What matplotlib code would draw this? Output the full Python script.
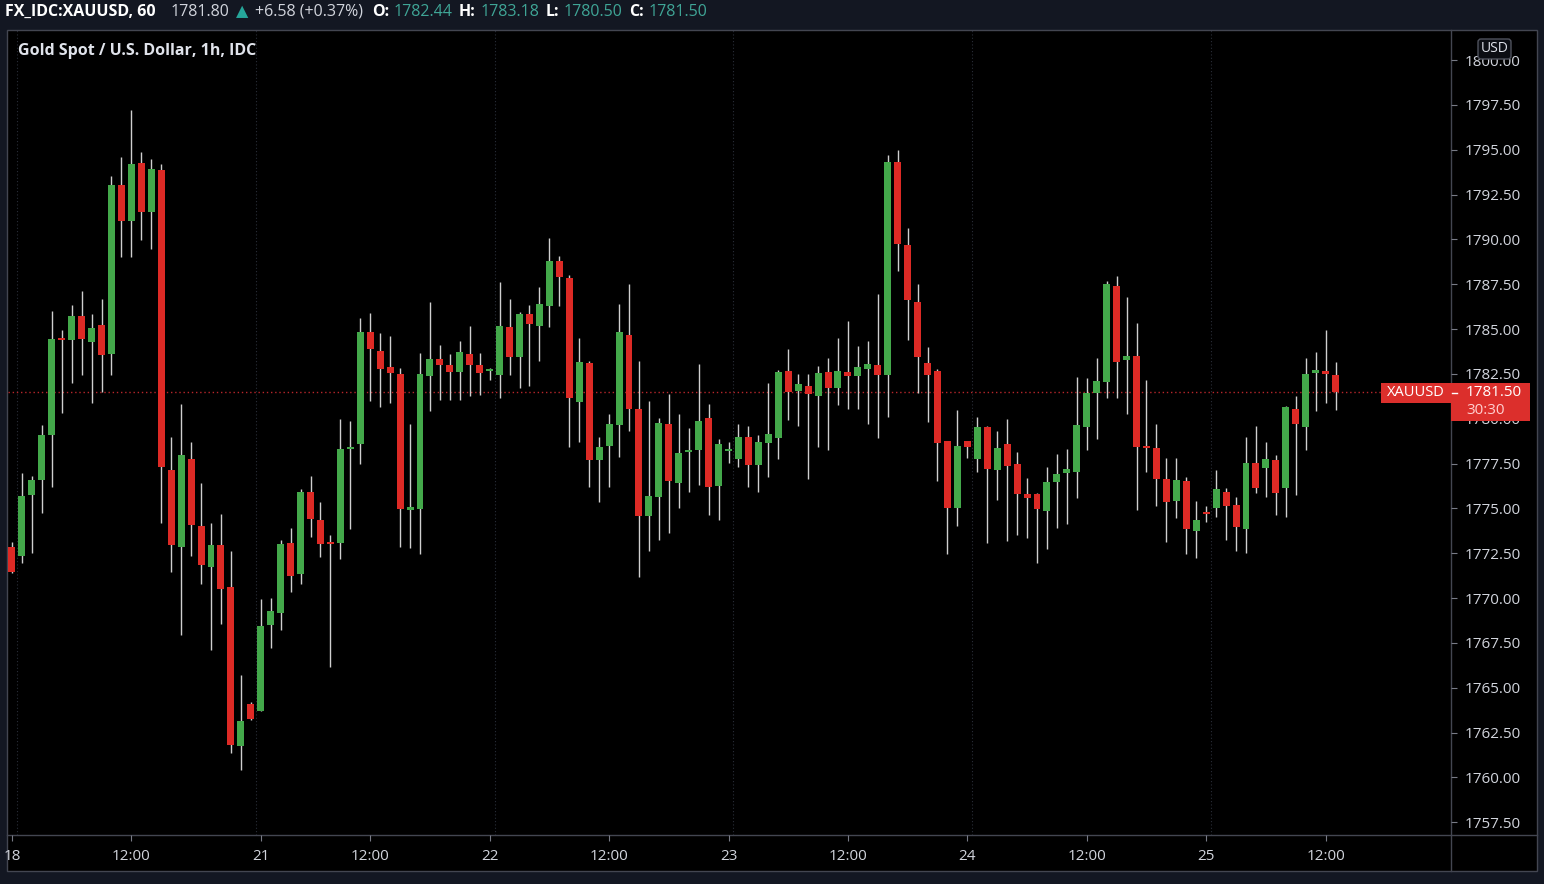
import matplotlib
matplotlib.use("Agg")
import matplotlib.pyplot as plt
from matplotlib.patches import Rectangle, FancyBboxPatch
import numpy as np

plt.rcParams['font.family'] = ['Open Sans', 'DejaVu Sans']

# Data: hourly XAUUSD candles
opens = [1772.85, 1772.35, 1775.75, 1776.59, 1779.10, 1784.45, 1784.39, 1785.73, 1784.28, 1785.23,
         1783.61, 1793.04, 1791.03, 1794.27, 1791.53, 1793.87, 1777.14, 1772.85, 1777.76, 1774.02,
         1771.73, 1772.96, 1770.62, 1761.75, 1764.09, 1763.70, 1768.50, 1769.17, 1773.07, 1771.34,
         1775.92, 1774.36, 1773.10, 1773.07, 1778.31, 1778.59, 1784.84, 1783.78, 1782.89, 1782.50,
         1774.91, 1774.97, 1782.39, 1783.33, 1783.00, 1782.61, 1783.61, 1783.00, 1782.67, 1782.44,
         1785.12, 1783.45, 1785.84, 1785.17, 1786.29, 1788.80, 1787.85, 1780.94, 1783.11, 1777.70,
         1778.48, 1779.65, 1784.67, 1780.55, 1774.58, 1775.64, 1779.71, 1776.42, 1778.12, 1778.26,
         1780.04, 1776.25, 1778.20, 1777.76, 1778.98, 1777.42, 1778.65, 1778.93, 1782.67, 1781.55,
         1781.83, 1781.27, 1782.61, 1781.72, 1782.61, 1782.39, 1782.78, 1783.00, 1782.44, 1794.32,
         1789.69, 1786.51, 1783.11, 1782.67, 1778.76, 1775.02, 1778.76, 1777.76, 1779.54, 1777.14,
         1778.59, 1777.48, 1775.81, 1775.81, 1774.86, 1776.47, 1776.98, 1777.03, 1779.54, 1781.44,
         1782.05, 1787.41, 1783.28, 1783.50, 1778.43, 1778.37, 1776.64, 1775.42, 1776.53, 1773.74,
         1774.74, 1775.02, 1775.92, 1775.19, 1773.85, 1777.53, 1777.26, 1777.70, 1776.14, 1780.55,
         1779.54, 1782.58, 1782.58, 1782.44]
highs = [1773.13, 1776.98, 1776.81, 1779.65, 1786.01, 1784.95, 1786.35, 1787.13, 1785.84, 1786.68,
         1793.54, 1794.60, 1797.22, 1794.88, 1794.49, 1794.21, 1778.98, 1780.82, 1778.71, 1776.42,
         1774.19, 1774.69, 1772.63, 1765.71, 1764.20, 1769.95, 1770.01, 1773.24, 1773.91, 1776.08,
         1776.81, 1775.36, 1773.52, 1779.99, 1779.88, 1785.62, 1785.90, 1784.78, 1784.62, 1782.83,
         1779.71, 1783.67, 1786.51, 1784.12, 1783.61, 1784.34, 1785.17, 1783.67, 1782.83, 1787.63,
         1786.68, 1785.96, 1786.35, 1787.35, 1790.08, 1789.08, 1788.02, 1784.51, 1783.22, 1778.98,
         1780.27, 1786.40, 1787.52, 1783.22, 1780.99, 1780.04, 1781.38, 1780.27, 1779.49, 1783.06,
         1780.82, 1778.87, 1778.71, 1779.71, 1779.60, 1779.10, 1782.00, 1782.72, 1783.89, 1782.50,
         1782.50, 1782.94, 1783.39, 1784.51, 1785.45, 1784.06, 1784.34, 1786.96, 1794.71, 1794.99,
         1790.64, 1787.52, 1784.00, 1782.78, 1778.76, 1780.49, 1778.76, 1780.10, 1779.60, 1779.32,
         1779.99, 1778.15, 1776.70, 1775.86, 1777.31, 1778.04, 1778.31, 1782.33, 1782.27, 1783.39,
         1787.68, 1787.96, 1786.79, 1785.34, 1782.16, 1779.71, 1777.81, 1777.81, 1776.75, 1775.42,
         1775.14, 1777.14, 1776.14, 1775.64, 1778.98, 1779.60, 1778.71, 1777.98, 1780.71, 1781.27,
         1783.39, 1783.72, 1784.95, 1783.18]
lows = [1771.40, 1771.96, 1772.52, 1774.75, 1776.20, 1780.32, 1782.00, 1782.44, 1780.88, 1781.49,
        1782.44, 1789.02, 1789.02, 1789.97, 1789.47, 1774.19, 1771.45, 1767.94, 1772.35, 1770.79,
        1767.11, 1768.56, 1761.36, 1760.41, 1763.20, 1763.70, 1767.22, 1768.22, 1770.34, 1770.79,
        1773.41, 1772.29, 1766.16, 1772.18, 1773.85, 1777.48, 1780.99, 1780.66, 1780.88, 1772.85,
        1772.79, 1772.46, 1780.43, 1781.05, 1781.05, 1781.05, 1781.27, 1781.33, 1782.16, 1781.16,
        1782.44, 1781.72, 1781.83, 1783.22, 1785.12, 1786.29, 1778.43, 1778.71, 1776.20, 1775.36,
        1776.20, 1777.87, 1779.32, 1771.18, 1772.63, 1773.24, 1773.63, 1775.02, 1775.92, 1776.31,
        1774.63, 1774.36, 1777.53, 1777.31, 1776.20, 1775.92, 1776.75, 1777.76, 1779.93, 1779.60,
        1776.64, 1778.43, 1778.26, 1780.77, 1780.55, 1780.55, 1779.71, 1778.93, 1780.10, 1788.24,
        1784.39, 1781.44, 1779.82, 1776.53, 1772.46, 1774.02, 1777.81, 1777.03, 1773.07, 1775.47,
        1773.18, 1773.52, 1773.35, 1771.96, 1772.74, 1773.91, 1774.13, 1775.58, 1778.26, 1778.87,
        1781.16, 1781.16, 1780.27, 1774.91, 1777.03, 1775.14, 1773.13, 1774.47, 1772.46, 1772.24,
        1774.24, 1774.52, 1773.24, 1772.63, 1772.52, 1775.86, 1775.64, 1774.63, 1774.52, 1775.75,
        1778.26, 1780.43, 1780.88, 1780.50]
closes = [1771.45, 1775.69, 1776.59, 1779.10, 1784.45, 1784.38, 1785.73, 1784.45, 1785.06, 1783.56,
          1793.04, 1791.03, 1794.21, 1791.53, 1793.93, 1777.31, 1772.96, 1777.98, 1774.08, 1771.85,
          1772.96, 1770.51, 1761.81, 1763.15, 1763.26, 1768.44, 1769.28, 1773.02, 1771.23, 1775.92,
          1774.41, 1773.02, 1773.02, 1778.31, 1778.43, 1784.84, 1783.89, 1782.78, 1782.55, 1774.97,
          1775.08, 1782.50, 1783.33, 1783.00, 1782.61, 1783.72, 1783.00, 1782.55, 1782.78, 1785.17,
          1783.45, 1785.84, 1785.29, 1786.40, 1788.80, 1787.91, 1781.16, 1783.17, 1777.70, 1778.43,
          1779.71, 1784.84, 1780.55, 1774.58, 1775.69, 1779.77, 1776.53, 1778.09, 1778.20, 1779.88,
          1776.20, 1778.59, 1778.28, 1778.98, 1777.42, 1778.71, 1779.15, 1782.61, 1781.49, 1781.94,
          1781.38, 1782.55, 1781.72, 1782.67, 1782.39, 1782.89, 1783.06, 1782.44, 1794.32, 1789.75,
          1786.62, 1783.45, 1782.44, 1778.65, 1775.02, 1778.48, 1778.43, 1779.54, 1777.20, 1778.37,
          1777.37, 1775.81, 1775.58, 1774.97, 1776.47, 1776.92, 1777.20, 1779.65, 1781.44, 1782.11,
          1787.52, 1783.17, 1783.50, 1778.43, 1778.37, 1776.64, 1775.36, 1776.59, 1773.85, 1774.36,
          1774.69, 1776.08, 1775.14, 1773.97, 1777.53, 1776.14, 1777.76, 1775.86, 1780.66, 1779.71,
          1782.50, 1782.63, 1782.52, 1781.50]

tick_pos = [0, 12, 25, 36, 48, 60, 72, 84, 96, 108, 120, 132]
tick_labels = ["18", "12:00", "21", "12:00", "22", "12:00", "23", "12:00", "24", "12:00", "25", "12:00"]
day_breaks = [0.5, 24.5, 48.5, 72.5, 96.5, 120.5]
price_ticks = np.arange(1757.5, 1800.01, 2.5)
last_price = 1781.50

W, H = 1544, 884
fig = plt.figure(figsize=(W / 100, H / 100), dpi=100, facecolor='#131722')

# frame behind everything
bg = fig.add_axes([0, 0, 1, 1], zorder=-1)
bg.set_xlim(0, W)
bg.set_ylim(H, 0)
bg.axis('off')
bg.add_patch(Rectangle((7, 30), 1530, 841, facecolor='black', edgecolor='#434651', lw=1))
bg.plot([1451, 1451], [30, 871], color='#434651', lw=1)
bg.plot([7, 1537], [835, 835], color='#434651', lw=1)

# main chart
ax = fig.add_axes([8 / W, 1 - 835 / H, (1451 - 8) / W, (835 - 30) / H])
ax.set_facecolor('none')
for s in ax.spines.values():
    s.set_visible(False)

o = np.array(opens)
c = np.array(closes)
hi = np.array(highs)
lo = np.array(lows)
x = np.arange(len(o))
up = c >= o
colors = np.where(up, '#43a84a', '#dd2a25')

for d in day_breaks:
    ax.axvline(d, color='#2a2e39', lw=0.8, ls=(0, (1, 2)), zorder=0)
ax.axhline(last_price, color='#b8262b', lw=1, ls=(0, (1, 2)), zorder=1)

ax.vlines(x, lo, hi, color='#cfcfcf', lw=1, zorder=2)
body = np.maximum(np.abs(c - o), 0.12)
ax.bar(x, body, bottom=np.minimum(o, c), width=0.7, color=colors, zorder=3)

ax.set_xlim(-0.4, 144.6)
ax.set_ylim(1756.79, 1801.68)

ax.yaxis.tick_right()
ax.set_yticks(price_ticks)
ax.set_yticklabels([f"{v:.2f}" for v in price_ticks])
ax.tick_params(axis='y', length=4, color='#787b86', pad=6, labelcolor='#d1d4dc', labelsize=11)
ax.set_xticks(tick_pos)
ax.set_xticklabels(tick_labels)
ax.tick_params(axis='x', length=4, color='#787b86', pad=6, labelcolor='#d1d4dc', labelsize=11)

# overlay: header, title, tags
ov = fig.add_axes([0, 0, 1, 1], zorder=5)
ov.set_xlim(0, W)
ov.set_ylim(H, 0)
ov.axis('off')
ov.patch.set_alpha(0)

teal = '#3fa596'
head = [
    (5, "FX_IDC:XAUUSD, 60", 'white', 'bold'),
    (171, "1781.80", '#d1d4dc', 'normal'),
    (236, "\u25b2", '#26a69a', 'normal'),
    (255, "+6.58 (+0.37%)", '#d1d4dc', 'normal'),
    (372, "O:", 'white', 'bold'),
    (394, "1782.44", teal, 'normal'),
    (459, "H:", 'white', 'bold'),
    (481, "1783.18", teal, 'normal'),
    (546, "L:", 'white', 'bold'),
    (564, "1780.50", teal, 'normal'),
    (629, "C:", 'white', 'bold'),
    (649, "1781.50", teal, 'normal'),
]
for hx, txt, col, wt in head:
    ov.text(hx, 12, txt, color=col, fontweight=wt, fontsize=11.5, va='center', ha='left',
            family=['Open Sans', 'DejaVu Sans'])

ov.text(18, 51, "Gold Spot / U.S. Dollar, 1h, IDC", color='#e0e3eb', fontweight='bold',
        fontsize=11.5, va='center', ha='left')

# USD badge
ov.add_patch(FancyBboxPatch((1478, 39), 33, 20, boxstyle="round,pad=0,rounding_size=3",
                            facecolor='#0c0e14', edgecolor='#50535e', lw=1))
ov.text(1494.5, 49, "USD", color='#e0e3eb', fontsize=10, ha='center', va='center')

# last price tag
tag_red = '#dc2f2c'
ov.add_patch(Rectangle((1381, 383), 70, 20, facecolor=tag_red, edgecolor='none'))
ov.add_patch(Rectangle((1451, 383), 79, 38, facecolor=tag_red, edgecolor='none'))
ov.plot([1452, 1457], [393, 393], color='white', lw=1)
ov.text(1416, 393, "XAUUSD", color='white', fontsize=10.5, ha='center', va='center')
ov.text(1466, 393, f"{last_price:.2f}", color='white', fontsize=11, ha='left', va='center')
ov.text(1466, 411, "30:30", color='#ffd0d0', fontsize=11, ha='left', va='center')

fig.savefig("out.png", dpi=100, facecolor=fig.get_facecolor())
